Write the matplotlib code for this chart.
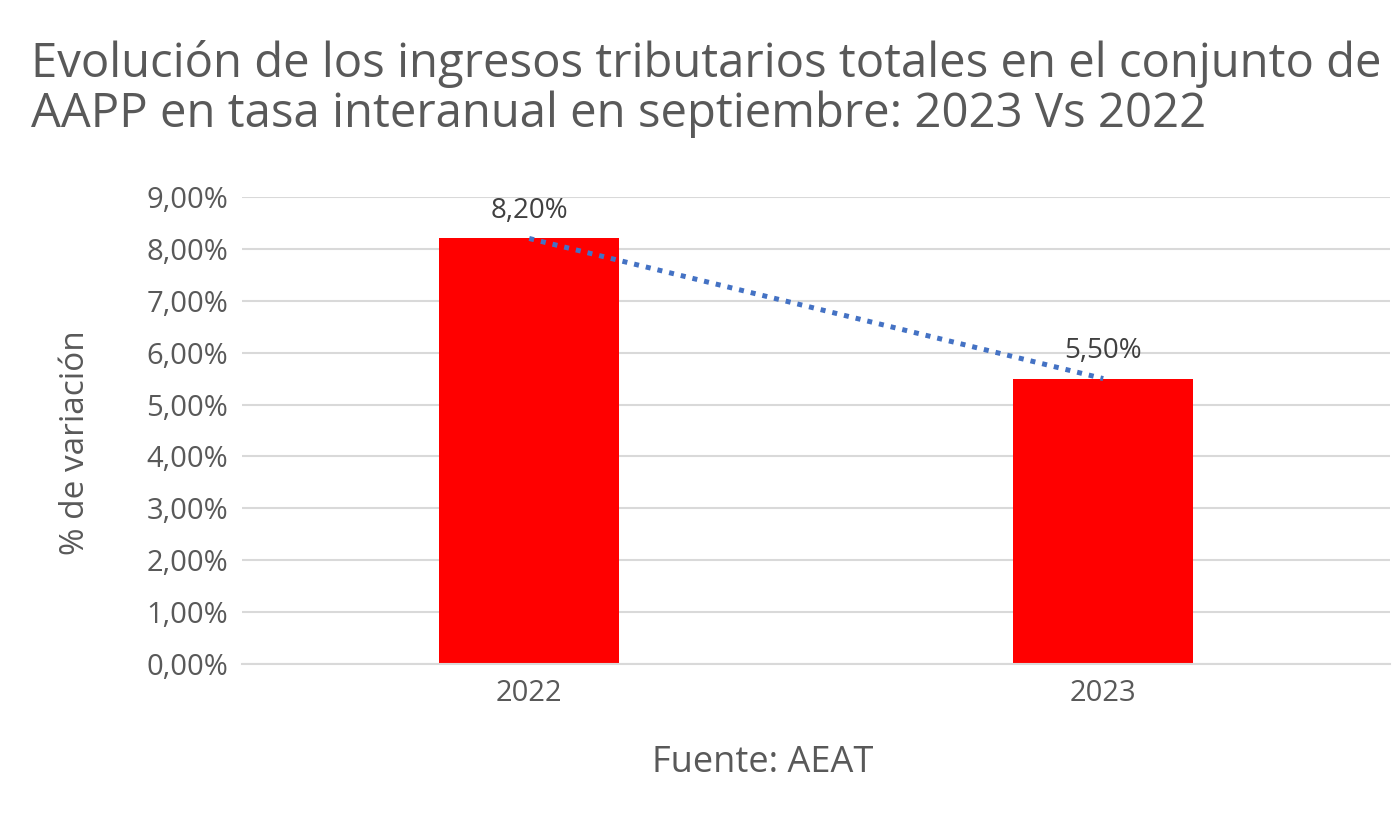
import matplotlib
matplotlib.use("Agg")
import matplotlib.pyplot as plt
from matplotlib.ticker import FuncFormatter

categories = ["2022", "2023"]
values = [8.20, 5.50]
value_labels = ["8,20%", "5,50%"]
yticks = [0, 1, 2, 3, 4, 5, 6, 7, 8, 9]

plt.rcParams['font.family'] = ['Open Sans', 'DejaVu Sans']
txt = '#595959'

fig = plt.figure(figsize=(14, 8.19), dpi=100)
ax = fig.add_axes([0.173, 0.1893, 0.820, 0.5702])

x = list(range(len(categories)))
ax.bar(x, values, width=0.314, color='#FF0000', zorder=2)
ax.plot(x, values, linestyle=(0, (1, 1.4)), color='#4472C4', linewidth=3.6,
        dash_capstyle='butt', zorder=3)

for xi, v, lab in zip(x, values, value_labels):
    ax.annotate(lab, (xi, v), xytext=(0, 15), textcoords='offset points',
                ha='center', va='baseline', fontsize=20, color='#404040')

ax.set_xlim(-0.5, 1.5)
ax.set_ylim(0, 9)
ax.set_yticks(yticks)
ax.yaxis.set_major_formatter(FuncFormatter(lambda v, p: f"{v:.2f}".replace('.', ',') + '%'))
ax.set_xticks(x)
ax.set_xticklabels(categories)
ax.tick_params(axis='y', length=0, labelsize=21, colors=txt, pad=10)
ax.tick_params(axis='x', length=0, labelsize=21, colors=txt, pad=11)
ax.grid(axis='y', color='#D9D9D9', linewidth=1.5, zorder=0)
ax.set_axisbelow(True)
for s in ['top', 'right', 'left']:
    ax.spines[s].set_visible(False)
ax.spines['bottom'].set_color('#D9D9D9')
ax.spines['bottom'].set_linewidth(1.5)

fig.text(0.054, 0.46, '% de variación', rotation=90, ha='center', va='center',
         fontsize=24, color=txt)
fig.text(0.545, 1 - 772 / 819, 'Fuente: AEAT', ha='center', va='baseline', fontsize=26, color=txt)

fig.text(0.022, 1 - 77 / 819, 'Evolución de los ingresos tributarios totales en el conjunto de',
         ha='left', va='baseline', fontsize=34, color=txt)
fig.text(0.022, 1 - 127 / 819, 'AAPP en tasa interanual en septiembre: 2023 Vs 2022',
         ha='left', va='baseline', fontsize=34, color=txt)

fig.savefig('out.png', dpi=100, facecolor='white')
